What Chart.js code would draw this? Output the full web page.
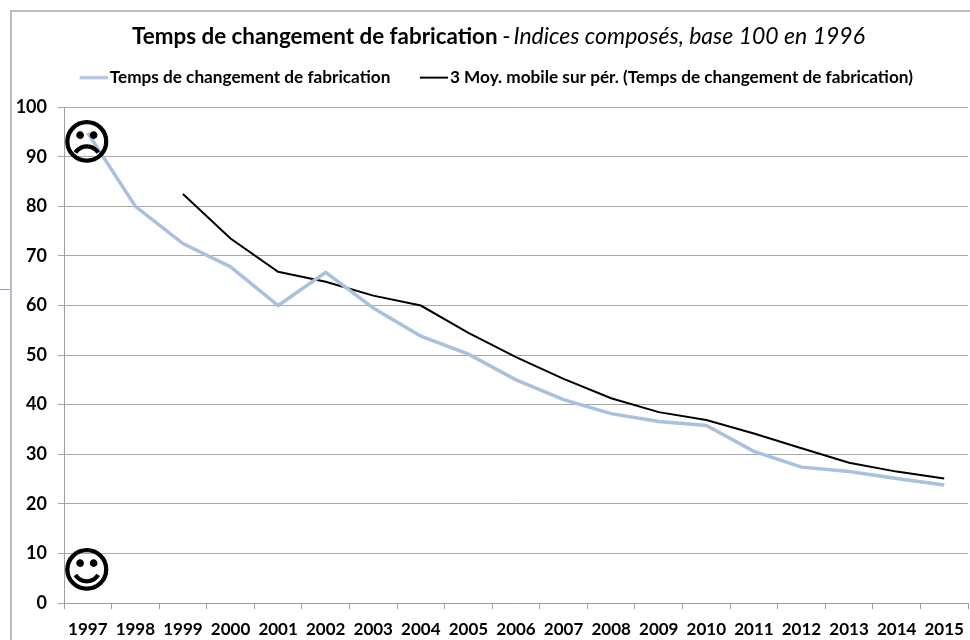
<!DOCTYPE html>
<html lang="fr"><head><meta charset="utf-8">
<script src="https://cdn.jsdelivr.net/npm/chart.js@4"></script>
<style>
html,body{margin:0;padding:0;background:#fff;overflow:hidden}
#wrap{position:relative;width:970px;height:640px}
#frame{position:absolute;left:10px;top:10px;width:970px;height:640px;border:2px solid #bdbdbd;box-sizing:border-box}
#tick{position:absolute;left:0;top:289px;width:10px;height:1px;background:#8a9fd0}
#title{position:absolute;left:132px;top:21px;white-space:nowrap;font:22.4px Lato,sans-serif;color:#000}
#title b{font-weight:700}
#title i{font-style:italic;font-size:23px;margin-left:-3px}
#title span{margin-left:-1px}
canvas#c{position:absolute;left:0;top:0}
</style></head><body>
<div id="wrap">
<div id="frame"></div><div id="tick"></div>
<canvas id="c" width="970" height="640"></canvas>
<div id="title"><b>Temps de changement de fabrication</b> <span>-</span> <i>Indices composés, base 100 en 1996</i></div>
</div>
<script>
const years=["1997","1998","1999","2000","2001","2002","2003","2004","2005","2006","2007","2008","2009","2010","2011","2012","2013","2014","2015"];
const seriesName="Temps de changement de fabrication";
const seriesValues=[94.8,80,72.5,67.8,60,66.7,59.5,53.8,50.2,45,41,38.2,36.6,35.8,30.6,27.4,26.5,25.1,23.8];
const averageName="3 Moy. mobile sur pér. (Temps de changement de fabrication)";
const averageValues=[null,null,82.5,73.5,66.8,64.8,62,60,54.5,49.6,45.2,41.3,38.5,36.9,34.2,31.2,28.3,26.5,25.1];
const faces=[{glyph:"\u2639",year:"1997",value:92},{glyph:"\u263A",year:"1997",value:5.7}];

function legendLine(color,width){
  const k=document.createElement("canvas");k.width=41;k.height=6;
  const g=k.getContext("2d");g.fillStyle=color;g.fillRect(13,3-width/2,28,width);
  return k;
}
const facePlugin={id:"faces",afterDatasetsDraw(chart){
  const {ctx,scales:{x,y}}=chart;
  ctx.save();ctx.fillStyle="#000";ctx.strokeStyle="#000";ctx.lineWidth=1.1;ctx.font='bold 48px "DejaVu Sans"';ctx.textAlign="center";ctx.textBaseline="middle";
  faces.forEach(f=>{
    const px=x.getPixelForValue(years.indexOf(f.year))-1,py=y.getPixelForValue(f.value);
    ctx.fillText(f.glyph,px,py);ctx.strokeText(f.glyph,px,py);
  });
  ctx.restore();
}};
const legendPlace={id:"legendPlace",afterLayout(chart){
  const l=chart.legend;l.left+=3;l.right+=3;l.top-=11;
}};
new Chart(document.getElementById("c"),{
  type:"line",
  data:{labels:years,datasets:[
    {label:seriesName,data:seriesValues,borderColor:"#a9c0de",backgroundColor:"#a9c0de",borderWidth:3.5,pointRadius:0,tension:0,pointStyle:legendLine("#a9c0de",3)},
    {label:averageName,data:averageValues,borderColor:"#000",backgroundColor:"#000",borderWidth:2,pointRadius:0,tension:0,pointStyle:legendLine("#000",2)}
  ]},
  options:{
    responsive:false,animation:false,
    layout:{padding:{top:57,left:12,right:2,bottom:0}},
    plugins:{
      tooltip:{enabled:false},
      legend:{position:"top",align:"center",
        labels:{usePointStyle:true,pointStyleWidth:28,boxHeight:12,padding:23,color:"#000",font:{family:"Lato",weight:"700",size:17.2}}}
    },
    scales:{
      x:{offset:true,
        grid:{offset:true,drawOnChartArea:false,drawTicks:true,tickLength:6,color:"#a0a0a0"},
        border:{color:"#a0a0a0"},
        ticks:{color:"#000",padding:10,maxRotation:0,autoSkip:false,font:{family:"Lato",weight:"700",size:17}},
        afterFit(s){s.height=37;s.paddingLeft=0;s.paddingRight=0}},
      y:{min:0,max:100,
        grid:{color:"#a8a8a8",tickLength:6,lineWidth:1},
        border:{color:"#a0a0a0"},
        ticks:{stepSize:10,color:"#000",padding:11,font:{family:"Lato",weight:"700",size:18}},
        afterFit(s){s.width=52}}
    }
  },
  plugins:[facePlugin,legendPlace]
});
</script>
</body></html>
